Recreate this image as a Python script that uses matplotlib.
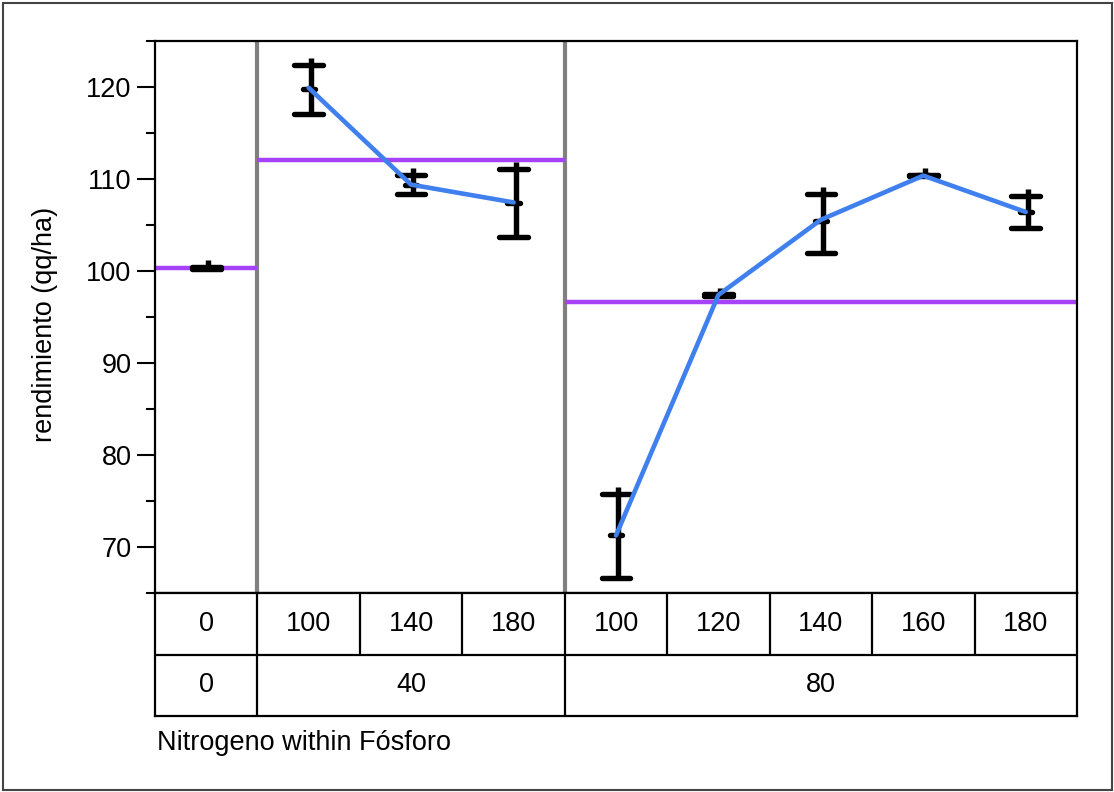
import matplotlib
matplotlib.use('Agg')
import matplotlib.pyplot as plt
from matplotlib.patches import Rectangle
import numpy as np

plt.rcParams['font.family'] = ['Liberation Sans', 'DejaVu Sans']

###############################################################################
# Data
###############################################################################
fosforo = ['0', '40', '80']
nitrogeno = ['0', '100', '140', '180', '100', '120', '140', '160', '180']
cell_group = [0, 1, 1, 1, 2, 2, 2, 2, 2]
cell_mean = [100.35, 119.89, 109.37, 107.44, 71.28, 97.40, 105.56, 110.35, 106.40]
cell_hi = [100.45, 122.35, 110.38, 111.08, 75.81, 97.45, 108.39, 110.46, 108.10]
cell_lo = [100.25, 117.09, 108.39, 103.74, 66.64, 97.30, 102.00, 110.30, 104.66]
cell_mid = [100.35, 119.71, 109.37, 107.38, 71.28, 97.38, 105.38, 110.38, 106.40]
group_mean = [100.34, 112.09, 96.67]
y_ticks = [70, 80, 90, 100, 110, 120]

###############################################################################
# Styles
###############################################################################
C_BAR = '#000000'
C_SEP = '#808080'
C_GRP = '#a642f7'
C_LIN = '#3f80ee'
FS = 19.5
TOP_EXT = 0.75
LW_BAR = 3.9

W, H = 1114, 792
fig = plt.figure(figsize=(W / 100, H / 100), dpi=100)
(L, R, T, B, TB) = (155, 1077, 40.7, 593.3, 716)
ax = fig.add_axes([L / W, 1 - B / H, (R - L) / W, (B - T) / H])
tb = fig.add_axes([L / W, 1 - TB / H, (R - L) / W, (TB - B) / H])

xs = np.arange(len(nitrogeno))
n_groups = len(fosforo)
bounds = [0]
for g in range(n_groups):
    bounds.append(bounds[-1] + cell_group.count(g))
###############################################################################
# Main plot
###############################################################################
ax.set_xlim(-0.5, len(nitrogeno) - 0.5)
ax.set_ylim(65, 125)
for b in bounds[1:-1]:
    ax.axvline(b - 0.5, color=C_SEP, lw=3, zorder=1)
for g in range(n_groups):
    ax.hlines(group_mean[g], bounds[g] - 0.5, bounds[g + 1] - 0.5,
              color=C_GRP, lw=3.2, zorder=2)
# range bars
hi = np.array(cell_hi)
lo = np.array(cell_lo)
ax.vlines(xs + 0.02, lo, hi + TOP_EXT, color=C_BAR, lw=LW_BAR, zorder=3)
ax.hlines(hi, xs - 0.14, xs + 0.14, color=C_BAR, lw=LW_BAR,
          capstyle='round', zorder=3)
ax.hlines(lo, xs - 0.14, xs + 0.14, color=C_BAR, lw=LW_BAR,
          capstyle='round', zorder=3)
ax.hlines(cell_mid, xs - 0.06, xs + 0.06, color=C_BAR, lw=LW_BAR,
          capstyle='round', zorder=3)
# cell means, joined within each Fósforo level
for g in range(n_groups):
    sl = slice(bounds[g], bounds[g + 1])
    ax.plot(xs[sl], cell_mean[sl], color=C_LIN, lw=3.3,
            solid_capstyle='round', zorder=4)

ax.set_yticks(y_ticks)
ax.set_yticks(np.arange(65, 126, 5), minor=True)
ax.set_xticks([])
ax.tick_params(axis='y', which='major', length=13, width=1.5,
               labelsize=FS, pad=4)
ax.tick_params(axis='y', which='minor', length=6.5, width=1.5)
for s in ax.spines.values():
    s.set_linewidth(1.6)
    s.set_color('black')

###############################################################################
# Level table under the plot
###############################################################################
tb.set_xlim(-0.5, len(nitrogeno) - 0.5)
tb.set_ylim(0, 2)
tb.set_xticks([])
tb.set_yticks([])
for s in tb.spines.values():
    s.set_linewidth(1.6)
    s.set_color('black')
tb.axhline(1, color='black', lw=1.6)
tb.vlines(xs[1:] - 0.5, 1, 2, color='black', lw=1.6)
tb.vlines(np.array(bounds[1:-1]) - 0.5, 0, 1, color='black', lw=1.6)
for x, lab in zip(xs, nitrogeno):
    tb.text(x, 1.5, lab, ha='center', va='center', fontsize=FS)
for g in range(n_groups):
    tb.text((bounds[g] + bounds[g + 1] - 1) / 2, 0.5, fosforo[g],
            ha='center', va='center', fontsize=FS)

fig.text(45 / W, 1 - 324 / H, 'rendimiento (qq/ha)', rotation=90,
         ha='center', va='center', fontsize=FS)
fig.text(157 / W, 1 - 743 / H, 'Nitrogeno within Fósforo',
         ha='left', va='center', fontsize=FS)
fig.patches.append(Rectangle((2.5 / W, 2 / H), 1109 / W, 787 / H,
                             transform=fig.transFigure, fill=False,
                             edgecolor='#444444', lw=1.5))

fig.savefig('out.png', dpi=100, facecolor='white')
plt.close('all')
